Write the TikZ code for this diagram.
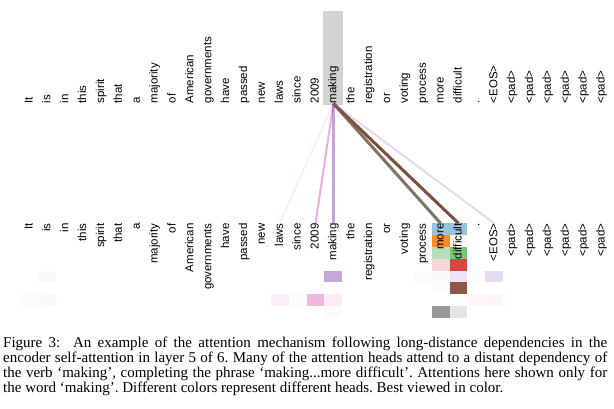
\documentclass[tikz,border=0pt]{standalone}
\usepackage{fontspec}
\setmainfont{Liberation Serif}
\newfontfamily\tokenfont{Liberation Sans}
\usetikzlibrary{positioning}
\definecolor{headblue}{HTML}{1F77B4}
\definecolor{headorange}{HTML}{FF7F0E}
\definecolor{headgreen}{HTML}{2CA02C}
\definecolor{headred}{HTML}{D62728}
\definecolor{headpurple}{HTML}{9467BD}
\definecolor{headbrown}{HTML}{8C564B}
\definecolor{headpink}{HTML}{E377C2}
\definecolor{headgrey}{HTML}{7F7F7F}
\definecolor{mixmore}{HTML}{807463}
\definecolor{mixdiff}{HTML}{7B4F43}
\definecolor{focusgrey}{HTML}{D3D3D3}

\begin{document}
\begin{tikzpicture}[
    x=1pt, y=-1pt,
    token/.style={rotate=90, inner sep=0pt, font=\tokenfont\fontsize{11.5}{12}\selectfont, text height=8.5pt, text depth=2.5pt},
    attn/.style={line width=3pt},
    caption/.style={inner sep=0pt, text width=604pt, align=justify, font=\fontsize{15}{15.3}\selectfont\frenchspacing}
]
\useasboundingbox (0,0) rectangle (614,408);

% query token
\fill[focusgrey] (323,11) rectangle (342.5,105);

% per-head attention weights
\foreach \c/\r/\hc/\w in {23/0/headblue/.45, 23/1/headorange/.9, 23/2/headgreen/.34, 23/3/headred/.19,
    23/4/headpurple/.04, 23/5/headbrown/.02, 23/7/headgrey/.8,
    24/0/headblue/.45, 24/1/headorange/.06, 24/2/headgreen/.62, 24/3/headred/.87,
    24/4/headpurple/.18, 24/5/headbrown/1, 24/6/headpink/.02, 24/7/headgrey/.2,
    17/1/headorange/.04, 17/4/headpurple/.57, 17/6/headpink/.15, 17/7/headgrey/.03,
    16/6/headpink/.52, 14/6/headpink/.12, 15/6/headpink/.03, 22/4/headpurple/.03,
    25/4/headpurple/.03, 25/6/headpink/.06, 26/4/headpurple/.23, 26/6/headpink/.08,
    0/6/headpink/.04, 1/4/headgrey/.04, 1/6/headpink/.05}
  \fill[\hc, opacity=\w] ({20.56+17.875*\c},{223.3+11.8*\r}) rectangle ++(17.875,11.8);

% source and target tokens
\foreach \t [count=\i from 0] in {It,is,in,this,spirit,that,a,majority,of,American,governments,have,passed,new,laws,since,2009,making,the,registration,or,voting,process,more,difficult,.,<EOS>,<pad>,<pad>,<pad>,<pad>,<pad>,<pad>} {
  \node[token, anchor=west] (src\i) at ({29.5+17.875*\i},103.5) {\t};
  \node[token, anchor=east] (dst\i) at ({29.5+17.875*\i},223.3) {\t};
}

% attention from 'making'
\draw[attn, line width=1.5pt, headpink, opacity=.15] (src17.west) -- (dst14.east);
\draw[attn, line width=2pt, headpink, opacity=.6] (src17.west) -- (dst16.east);
\draw[attn, headpurple, opacity=.6] (src17.west) -- (dst17.east);
\draw[attn, mixmore] (src17.west) -- (dst23.east);
\draw[attn, mixdiff] (src17.west) -- (dst24.east);
\draw[attn, line width=2pt, headpurple, opacity=.25] (src17.west) -- (dst26.east);

\node[caption, anchor=base west] (cap) at (3,347) {Figure 3:\ \ An example of the attention mechanism following long-distance dependencies in the\linebreak
encoder self-attention in layer 5 of 6. Many of the attention heads attend to a distant dependency of\linebreak
the verb `making', completing the phrase `making...more difficult'. Attentions here shown only for\linebreak
the word `making'. Different colors represent different heads. Best viewed in color.};

\end{tikzpicture}
\end{document}
